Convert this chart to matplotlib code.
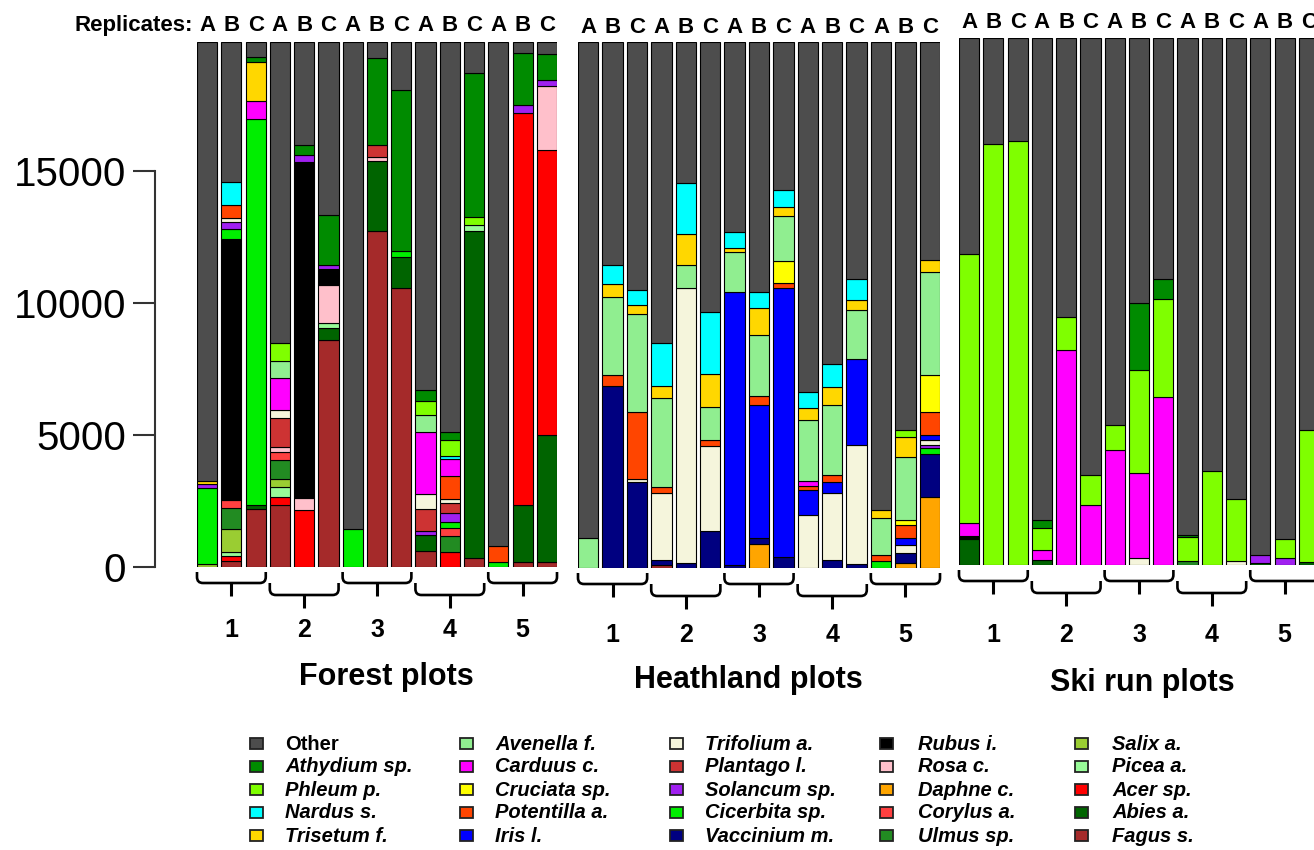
import numpy as np
import matplotlib.pyplot as plt
from matplotlib.patches import Rectangle, PathPatch
from matplotlib.path import Path

plt.rcParams['font.family'] = ['Liberation Sans', 'DejaVu Sans']

# every replicate was rarefied to the same number of reads
DEPTH = 19900

species = ['Other', 'Athydium sp.', 'Phleum p.', 'Nardus s.', 'Trisetum f.',
           'Avenella f.', 'Carduus c.', 'Cruciata sp.', 'Potentilla a.', 'Iris l.',
           'Trifolium a.', 'Plantago l.', 'Solancum sp.', 'Cicerbita sp.', 'Vaccinium m.',
           'Rubus i.', 'Rosa c.', 'Daphne c.', 'Corylus a.', 'Ulmus sp.',
           'Salix a.', 'Picea a.', 'Acer sp.', 'Abies a.', 'Fagus s.']
colors = ['#4D4D4D', '#008B00', '#7FFF00', '#00FFFF', '#FFD700',
          '#90EE90', '#FF00FF', '#FFFF00', '#FF4500', '#0000FF',
          '#F5F5DC', '#CD3333', '#A020F0', '#00EE00', '#000080',
          '#000000', '#FFC0CB', '#FFA500', '#FF4040', '#228B22',
          '#9ACD32', '#98FB98', '#FF0000', '#006400', '#A52A2A']

plots = ['1', '2', '3', '4', '5']
replicates = ['A', 'B', 'C']
panel_titles = ['Forest plots', 'Heathland plots', 'Ski run plots']

# reads per species, replicates 1A..5C
forest = {
    'Fagus s.':      [0, 230, 2200, 2350, 0, 8600, 0, 12750, 10570, 600, 0, 330, 0, 200, 200],
    'Abies a.':      [0, 0, 150, 0, 0, 450, 0, 2650, 1170, 600, 0, 12400, 0, 2150, 4800],
    'Acer sp.':      [0, 200, 0, 300, 2150, 0, 0, 0, 0, 0, 560, 0, 0, 14850, 10800],
    'Picea a.':      [0, 150, 0, 400, 0, 200, 0, 0, 0, 0, 0, 250, 0, 0, 0],
    'Salix a.':      [100, 850, 0, 300, 0, 0, 0, 0, 0, 0, 0, 0, 0, 0, 0],
    'Ulmus sp.':     [0, 800, 0, 700, 0, 0, 0, 0, 0, 0, 600, 0, 0, 0, 0],
    'Corylus a.':    [0, 300, 0, 300, 0, 0, 0, 0, 0, 0, 300, 0, 0, 0, 0],
    'Rosa c.':       [0, 0, 0, 200, 450, 1450, 0, 150, 0, 0, 0, 0, 0, 0, 2450],
    'Rubus i.':      [0, 9900, 0, 0, 12750, 600, 0, 0, 0, 0, 0, 0, 0, 0, 0],
    'Cicerbita sp.': [2900, 400, 14650, 0, 0, 0, 1450, 0, 250, 0, 250, 0, 200, 0, 0],
    'Solancum sp.':  [150, 250, 0, 0, 250, 150, 0, 0, 0, 150, 350, 0, 0, 300, 200],
    'Plantago l.':   [0, 0, 0, 1100, 0, 0, 0, 450, 0, 850, 350, 0, 0, 0, 0],
    'Trifolium a.':  [0, 150, 0, 300, 0, 0, 0, 0, 0, 550, 150, 0, 0, 0, 0],
    'Potentilla a.': [0, 500, 0, 0, 0, 0, 0, 0, 0, 0, 900, 0, 600, 0, 0],
    'Carduus c.':    [0, 0, 650, 1200, 0, 0, 0, 0, 0, 2350, 650, 0, 0, 0, 0],
    'Avenella f.':   [0, 0, 0, 650, 0, 0, 0, 0, 0, 650, 0, 0, 0, 0, 0],
    'Trisetum f.':   [100, 0, 1500, 0, 0, 0, 0, 0, 0, 0, 0, 0, 0, 0, 0],
    'Nardus s.':     [0, 850, 0, 0, 0, 0, 0, 0, 0, 0, 100, 0, 0, 0, 0],
    'Phleum p.':     [0, 0, 0, 700, 0, 0, 0, 0, 0, 550, 600, 300, 0, 0, 0],
    'Athydium sp.':  [0, 0, 200, 0, 400, 1900, 0, 3300, 6100, 400, 300, 5450, 0, 2000, 1000],
}

heath = {
    'Fagus s.':      [0, 0, 0, 100, 0, 0, 0, 0, 0, 0, 0, 0, 0, 0, 0],
    'Daphne c.':     [0, 0, 0, 0, 0, 0, 0, 900, 0, 0, 0, 0, 0, 180, 2700],
    'Vaccinium m.':  [0, 6900, 3250, 200, 180, 1400, 100, 250, 400, 0, 300, 150, 0, 400, 1600],
    'Cicerbita sp.': [0, 0, 0, 0, 0, 0, 0, 0, 0, 0, 0, 0, 280, 0, 250],
    'Solancum sp.':  [0, 0, 0, 0, 0, 0, 0, 0, 0, 0, 0, 0, 0, 0, 100],
    'Trifolium a.':  [0, 0, 100, 2550, 10400, 3200, 0, 0, 0, 2000, 2550, 4500, 0, 300, 200],
    'Iris l.':       [0, 0, 0, 0, 0, 0, 10350, 5000, 10200, 950, 400, 3250, 0, 250, 200],
    'Potentilla a.': [0, 400, 2550, 200, 0, 250, 0, 350, 200, 150, 250, 0, 200, 500, 850],
    'Cruciata sp.':  [0, 0, 0, 0, 0, 0, 0, 0, 800, 0, 0, 0, 0, 180, 1400],
    'Carduus c.':    [0, 0, 0, 0, 0, 0, 0, 0, 0, 200, 0, 0, 0, 0, 0],
    'Avenella f.':   [1150, 2950, 3700, 3400, 900, 1250, 1500, 2300, 1700, 2300, 2650, 1850, 1400, 2400, 3900],
    'Trisetum f.':   [0, 500, 350, 450, 1150, 1250, 150, 1050, 350, 450, 700, 400, 300, 750, 450],
    'Nardus s.':     [0, 700, 550, 1600, 1950, 2350, 600, 600, 650, 600, 850, 800, 0, 0, 0],
    'Phleum p.':     [0, 0, 0, 0, 0, 0, 0, 0, 0, 0, 0, 0, 0, 250, 0],
}

ski = {
    'Abies a.':      [1000, 0, 0, 200, 0, 0, 0, 0, 0, 0, 0, 0, 80, 0, 100],
    'Ulmus sp.':     [0, 0, 0, 0, 0, 0, 0, 0, 0, 150, 0, 0, 0, 0, 0],
    'Rubus i.':      [100, 0, 0, 0, 0, 0, 0, 0, 0, 0, 0, 0, 0, 0, 0],
    'Solancum sp.':  [0, 0, 0, 0, 0, 0, 0, 0, 0, 0, 0, 0, 300, 250, 0],
    'Trifolium a.':  [0, 0, 0, 0, 0, 0, 0, 280, 0, 0, 0, 150, 0, 0, 0],
    'Carduus c.':    [500, 0, 0, 350, 8100, 2250, 4350, 3200, 6350, 0, 0, 0, 0, 0, 0],
    'Phleum p.':     [10150, 15900, 16000, 850, 1250, 1150, 950, 3900, 3700, 900, 3550, 2350, 0, 750, 5000],
    'Athydium sp.':  [0, 0, 0, 300, 0, 0, 0, 2500, 750, 80, 0, 0, 0, 0, 0],
}

W, H = 1314, 850
fig = plt.figure(figsize=(W / 100, H / 100), dpi=100)

# panel boxes in pixels: left, right, top, bottom, letters y,
# numbers offset, title offset, title x shift
layout = [
    (forest, 197, 557, 42, 567, 25, 63, 110, 9),
    (heath, 578, 940, 42, 568, 27, 67, 112, -11),
    (ski, 959, 1319, 38, 565, 22, 70, 118, 3),
]

col = dict(zip(species, colors))
stack = species[1:][::-1] + ['Other']   # Fagus at the bottom, Other on top
n = 15
xpos = 0.7 + 1.2 * np.arange(n)

axes = []
for counts, left, right, top, bottom, *_ in layout:
    ax = fig.add_axes([left / W, 1 - bottom / H, (right - left) / W, (bottom - top) / H])
    base = np.zeros(n)
    filled = np.sum([np.array(v) for v in counts.values()], axis=0)
    for name in stack:
        if name == 'Other':
            vals = DEPTH - filled
        else:
            vals = np.array(counts.get(name, [0] * n), dtype=float)
        m = vals > 0
        ax.bar(xpos[m], vals[m], bottom=base[m], width=1.0, color=col[name],
               edgecolor='black', linewidth=0.8)
        base += vals
    ax.set_xlim(0.2, 18.0)
    ax.set_ylim(0, DEPTH)
    for s in ax.spines.values():
        s.set_visible(False)
    ax.set_xticks([])
    ax.set_yticks([])
    axes.append(ax)

# y axis on the forest panel only
ax0 = axes[0]
ax0.spines['left'].set_visible(True)
ax0.spines['left'].set_position(('outward', 30))
ax0.spines['left'].set_bounds(0, 15000)
ax0.spines['left'].set_color('#333333')
ax0.spines['left'].set_linewidth(1.5)
ax0.set_yticks([0, 5000, 10000, 15000])
ax0.tick_params(axis='y', length=16, width=1.5, color='#333333', labelsize=29, pad=5)

# overlay in pixel coordinates for labels, brackets and legend
ov = fig.add_axes([0, 0, 1, 1])
ov.set_xlim(0, W)
ov.set_ylim(H, 0)
ov.axis('off')


def to_px(ax, xd):
    return ax.transData.transform((xd, 0))[0]


def bracket(xl, xr, top, mid, stem, r=6):
    verts = [(xl, top), (xl, mid - r), (xl, mid), (xl + r, mid), (xr - r, mid),
             (xr, mid), (xr, mid - r), (xr, top)]
    codes = [Path.MOVETO, Path.LINETO, Path.CURVE3, Path.CURVE3, Path.LINETO,
             Path.CURVE3, Path.CURVE3, Path.LINETO]
    ov.add_patch(PathPatch(Path(verts, codes), fill=False, lw=1.9, ec='black'))
    xm = (xl + xr) / 2
    ov.plot([xm, xm], [mid, stem], color='black', lw=2.2, solid_capstyle='butt')


for k, (ax, lay) in enumerate(zip(axes, layout)):
    counts, left, right, top, bottom, ylet, num_off, title_off, title_dx = lay
    for i in range(n):
        ov.text(to_px(ax, xpos[i]), ylet, replicates[i % 3], ha='center', va='center',
                fontsize=16, fontweight='bold')
    for g, p in enumerate(plots):
        xl = to_px(ax, xpos[3 * g] - 0.5)
        xr = to_px(ax, xpos[3 * g + 2] + 0.5)
        if g % 2 == 0:
            bracket(xl, xr, bottom + 5, bottom + 16, bottom + 29)
        else:
            bracket(xl, xr, bottom + 16, bottom + 28, bottom + 41)
        ov.text((xl + xr) / 2, bottom + num_off, p, ha='center', va='center',
                fontsize=18, fontweight='bold')
    ov.text((left + right) / 2 + title_dx, bottom + title_off, panel_titles[k],
            ha='center', va='center', fontsize=22, fontweight='bold')

ov.text(193, 25, 'Replicates:', ha='right', va='center', fontsize=16, fontweight='bold')

# legend, five columns of five
sq_x = [250, 460, 670, 880, 1075]
txt_x = [285, 495, 705, 918, 1112]
row_y = [744, 767, 790, 813, 836]
for k, name in enumerate(species):
    c, r = divmod(k, 5)
    ov.add_patch(Rectangle((sq_x[c], row_y[r] - 6), 13, 11, facecolor=col[name],
                           edgecolor='#222222', lw=1.3))
    ov.text(txt_x[c], row_y[r], name, ha='left', va='center', fontsize=14.5,
            fontweight='bold', fontstyle='normal' if name == 'Other' else 'italic')

fig.savefig('out.png', dpi=100)
